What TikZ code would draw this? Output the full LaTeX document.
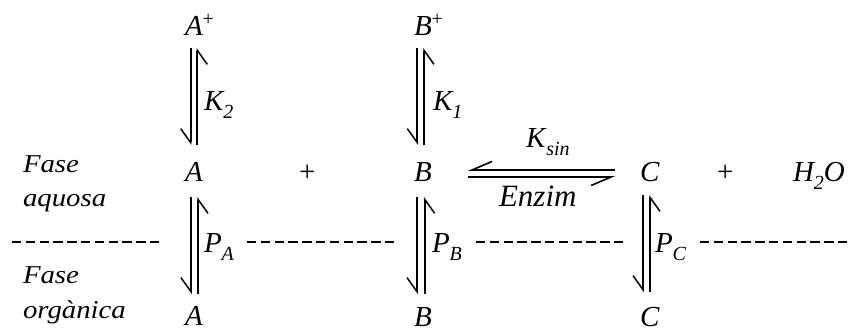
\documentclass[tikz,border=0pt]{standalone}
\usepackage{fontspec}
\setmainfont{Liberation Serif}
\newfontfamily\widefont[FakeStretch=1.12]{Liberation Serif}
\usetikzlibrary{arrows.meta}
\newcommand{\lowsub}[3][0pt]{#2\kern#1\raisebox{-8pt}{\fontsize{20}{20}\selectfont #3}}
\tikzset{
  lbl/.style={anchor=base west,inner sep=0pt,outer sep=0pt,font=\fontsize{29}{29}\selectfont\itshape},
  rom/.style={anchor=base west,inner sep=0pt,outer sep=0pt,font=\fontsize{29}{29}\selectfont},
  wlbl/.style={anchor=base west,inner sep=0pt,outer sep=0pt,font=\widefont\fontsize{25.7}{26}\selectfont\itshape},
  vharp/.style={line width=1.7pt,-{Straight Barb[harpoon,swap,length=14pt,width=20pt,line width=1.5pt]}},
  hharp/.style={line width=1.9pt,-{Straight Barb[harpoon,swap,length=20pt,width=17pt,line width=1.6pt]}},
  phase/.style={line width=1.3pt,dash pattern=on 9.4pt off 4.4pt},
}
\begin{document}
\begin{tikzpicture}[x=1pt,y=-1pt]
\useasboundingbox (0,0) rectangle (853,327);
\node[lbl] (Ap) at (185,35) {A\raisebox{10pt}{\fontsize{20}{20}\selectfont\upshape +}};
\node[lbl] (Bp) at (414,35) {B\raisebox{10pt}{\fontsize{20}{20}\selectfont\upshape +}};
\node[lbl] (K2) at (204,110) {\lowsub{K}{2}};
\node[lbl] (K1) at (433,110) {\lowsub{K}{1}};
\node[lbl] (Am) at (185,181) {A};
\node[rom] (plus1) at (299,181) {+};
\node[lbl] (Bm) at (414,181) {B};
\node[lbl] (Cm) at (640,181) {C};
\node[rom] (plus2) at (717,181) {+};
\node[lbl] (H) at (793,181) {\lowsub{H}{2}O};
\node[lbl] (Ksin) at (526,147) {\lowsub[1pt]{K}{sin}};
\node[lbl,font=\fontsize{31}{31}\selectfont\itshape] (Enz) at (499,206) {Enzim};
\node[wlbl] (F1) at (23,172) {Fase};
\node[wlbl] (F2) at (23,206) {aquosa};
\node[wlbl] (F3) at (23,283) {Fase};
\node[wlbl] (F4) at (23,318) {orgànica};
\node[lbl] (PA) at (204,252) {\lowsub{P}{A}};
\node[lbl] (PB) at (432,252) {\lowsub{P}{B}};
\node[lbl] (PC) at (655,252) {\lowsub{P}{C}};
\node[lbl] (Ab) at (185,325) {A};
\node[lbl] (Bb) at (414,326) {B};
\node[lbl] (Cb) at (640,326) {C};
% vertical equilibria
\draw[vharp] ([xshift=5.7pt,yshift=-13pt]Ap.base west) -- ([xshift=5.7pt,yshift=36pt]Am.base west);
\draw[vharp] ([xshift=12.3pt,yshift=36pt]Am.base west) -- ([xshift=12.3pt,yshift=-13pt]Ap.base west);
\draw[vharp] ([xshift=3.3pt,yshift=-13pt]Bp.base west) -- ([xshift=3.3pt,yshift=36pt]Bm.base west);
\draw[vharp] ([xshift=10pt,yshift=36pt]Bm.base west) -- ([xshift=10pt,yshift=-13pt]Bp.base west);
\draw[vharp] ([xshift=6pt,yshift=-16pt]Am.base west) -- ([xshift=6pt,yshift=31pt]Ab.base west);
\draw[vharp] ([xshift=13pt,yshift=31pt]Ab.base west) -- ([xshift=13pt,yshift=-16pt]Am.base west);
\draw[vharp] ([xshift=3pt,yshift=-16pt]Bm.base west) -- ([xshift=3pt,yshift=32pt]Bb.base west);
\draw[vharp] ([xshift=10.7pt,yshift=32pt]Bb.base west) -- ([xshift=10.7pt,yshift=-16pt]Bm.base west);
\draw[vharp] ([xshift=3pt,yshift=-14pt]Cm.base west) -- ([xshift=3pt,yshift=34pt]Cb.base west);
\draw[vharp] ([xshift=10pt,yshift=34pt]Cb.base west) -- ([xshift=10pt,yshift=-14pt]Cm.base west);
% horizontal equilibrium
\draw[hharp] ([xshift=-25pt,yshift=11pt]Cm.base west) -- ([xshift=54pt,yshift=11pt]Bm.base west);
\draw[hharp] ([xshift=54pt,yshift=4pt]Bm.base west) -- ([xshift=-25pt,yshift=4pt]Cm.base west);
% phase boundary
\coordinate (d1a) at (12,242); \coordinate (d1b) at (162,242);
\coordinate (d2a) at (247,242); \coordinate (d2b) at (398,242);
\coordinate (d3a) at (476,242); \coordinate (d3b) at (626,242);
\coordinate (d4a) at (700,242); \coordinate (d4b) at (850,242);
\draw[phase] (d1a) -- (d1b);
\draw[phase] (d2a) -- (d2b);
\draw[phase] (d3a) -- (d3b);
\draw[phase] (d4a) -- (d4b);
\end{tikzpicture}
\end{document}
